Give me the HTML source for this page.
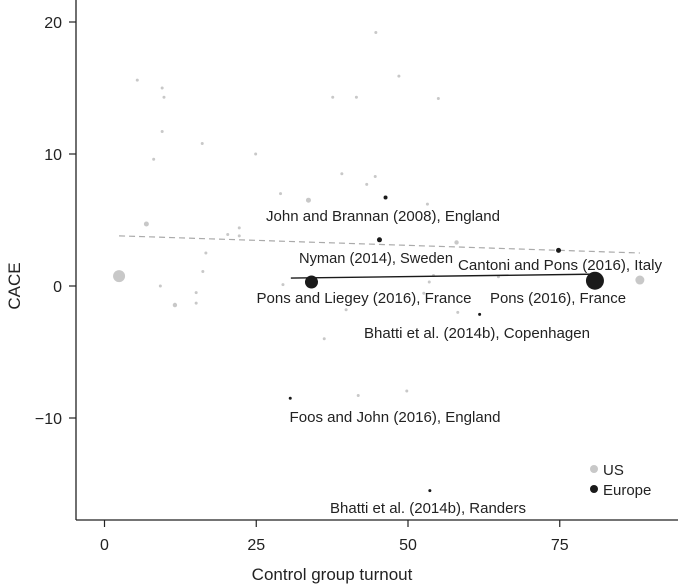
<!DOCTYPE html>
<html><head><meta charset="utf-8"><style>
body{margin:0;background:#fff;}
svg{display:block;font-family:"Liberation Sans",Arial,sans-serif;}
</style></head><body>
<svg id="chart" width="678" height="584" viewBox="0 0 678 584" xmlns="http://www.w3.org/2000/svg">
<g id="axes"></g>
<g id="marks"></g>
<g id="labels"></g>
<text x="332" y="580" font-size="17" text-anchor="middle" fill="#222">Control group turnout</text>
<text transform="translate(20,286) rotate(-90)" font-size="17" text-anchor="middle" fill="#222">CACE</text>
<g>
<circle cx="594" cy="469" r="4" fill="#c8c8c8"/>
<text x="603" y="475" font-size="15" fill="#222">US</text>
<circle cx="594" cy="489" r="4" fill="#1a1a1a"/>
<text x="603" y="495" font-size="15" fill="#222">Europe</text>
</g>
</svg>
<script>
const xTicks=[0,25,50,75];
const yTicks=[20,10,0,-10];
const yTickLabels=["20","10","0","\u221210"];
const usX=[5.4,9.5,9.8,9.5,16.1,8.1,24.9,44.7,48.5,37.6,41.5,39.1,44.6,43.2,29.0,33.6,6.9,20.3,22.2,22.2,16.7,16.2,2.4,9.2,15.1,29.4,55.0,53.2,58.0,54.2,53.5,64.9,88.2,11.6,15.1,39.8,52.6,58.2,36.2,41.8,49.8];
const usY=[15.6,15.0,14.3,11.7,10.8,9.6,10.0,19.2,15.9,14.3,14.3,8.5,8.3,7.7,7.0,6.5,4.7,3.9,4.4,3.8,2.5,1.1,0.75,0.0,-0.5,0.1,14.2,6.2,3.3,0.8,0.3,0.7,0.45,-1.44,-1.3,-1.8,-0.55,-2.0,-4.0,-8.3,-7.95];
const usSize=[1.5,1.5,1.5,1.5,1.5,1.5,1.5,1.5,1.5,1.5,1.5,1.5,1.5,1.5,1.5,2.5,2.5,1.5,1.5,1.5,1.5,1.5,6,1.5,1.5,1.5,1.5,1.5,2.2,1.5,1.5,1.5,4.5,2.2,1.5,1.5,1.5,1.5,1.5,1.5,1.5];
const euNames=["John and Brannan (2008), England","Nyman (2014), Sweden","Cantoni and Pons (2016), Italy","Pons and Liegey (2016), France","Pons (2016), France","Bhatti et al. (2014b), Copenhagen","Foos and John (2016), England","Bhatti et al. (2014b), Randers"];
const euX=[46.3,45.3,74.8,34.1,80.8,61.8,30.6,53.6];
const euY=[6.7,3.5,2.7,0.3,0.4,-2.15,-8.5,-15.5];
const euSize=[2,2.5,2.5,6.5,9,1.5,1.5,1.5];
const labelX=[383,376,560,364,558,477,395,428];
const labelY=[216,258,265,298,298,333,417,508];
const labelW=[234,154,204,215,136,226,211,196];
const trendX=[2.4,88.2];
const trendY=[3.8,2.5];
const euLineX=[30.7,81];
const euLineY=[0.6,0.9];

const X=v=>104.5+v*6.07;
const Y=v=>286-v*13.2;
const NS="http://www.w3.org/2000/svg";
function mk(tag,attrs,parent){const e=document.createElementNS(NS,tag);for(const k in attrs)e.setAttribute(k,attrs[k]);parent.appendChild(e);return e;}
const axes=document.getElementById('axes'),marks=document.getElementById('marks'),labels=document.getElementById('labels');

let e=mk('line',{x1:76,y1:0,x2:76,y2:520,stroke:'#222','stroke-width':1.3},axes);


e=mk('line',{x1:76,y1:520,x2:678,y2:520,stroke:'#222','stroke-width':1.3},axes);


xTicks.forEach(t=>{
 let l=mk('line',{x1:X(t),y1:520,x2:X(t),y2:527,stroke:'#222','stroke-width':1.2},axes);
 
 
 let tx=mk('text',{x:X(t),y:550,'font-size':16,'text-anchor':'middle',fill:'#222'},axes);
 tx.textContent=String(t);
 
 
});
yTicks.forEach((t,i)=>{
 let l=mk('line',{x1:69,y1:Y(t),x2:76,y2:Y(t),stroke:'#222','stroke-width':1.2},axes);
 
 
 let tx=mk('text',{x:62,y:Y(t)+6,'font-size':16,'text-anchor':'end',fill:'#222'},axes);
 tx.textContent=yTickLabels[i];
 
 
});
e=mk('line',{x1:X(trendX[0]),y1:Y(trendY[0]),x2:X(trendX[1]),y2:Y(trendY[1]),stroke:'#aaa','stroke-width':1.2,'stroke-dasharray':'6,4'},marks);


usX.forEach((v,i)=>{
 let c=mk('circle',{cx:X(v),cy:Y(usY[i]),r:usSize[i],fill:'#c8c8c8'},marks);
 
 
});
e=mk('line',{x1:X(euLineX[0]),y1:Y(euLineY[0]),x2:X(euLineX[1]),y2:Y(euLineY[1]),stroke:'#1a1a1a','stroke-width':1.4},marks);


euX.forEach((v,i)=>{
 let c=mk('circle',{cx:X(v),cy:Y(euY[i]),r:euSize[i],fill:'#1a1a1a'},marks);
 
 
 let t=mk('text',{x:labelX[i],y:labelY[i]+5,'font-size':15,'text-anchor':'middle',fill:'#222',textLength:labelW[i],lengthAdjust:'spacingAndGlyphs'},labels);
 t.textContent=euNames[i];
 
 
});
</script>
</body></html>
